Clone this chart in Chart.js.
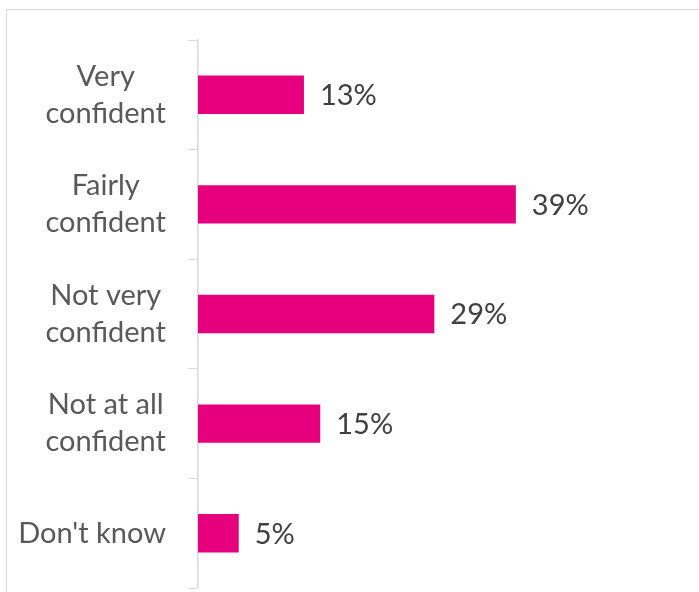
<!DOCTYPE html>
<html>
<head>
<meta charset="utf-8">
<script src="https://cdn.jsdelivr.net/npm/chart.js@4"></script>
<style>
  html, body { margin: 0; padding: 0; background: #fff; overflow: hidden; }
  #wrap { position: relative; width: 699px; height: 592px; }
  #frame { position: absolute; left: 6px; top: 9px; width: 720px; height: 620px;
           border: 1.5px solid #d9d9d9; box-sizing: border-box; }
  canvas { position: absolute; left: 0; top: 0; }
</style>
</head>
<body>
<div id="wrap">
  <div id="frame"></div>
  <canvas id="chart" width="699" height="592"></canvas>
</div>
<script>
// данные
const categories = [
  ['Very', 'confident'],
  ['Fairly', 'confident'],
  ['Not very', 'confident'],
  ['Not at all', 'confident'],
  ["Don't know"]
];
const values = [13, 39, 29, 15, 5];
const barColor = '#e6007e';
const fontFamily = 'Lato, "Open Sans", sans-serif';

// подписи категорий: строки по центру, блок выровнен вправо
const catLabels = {
  id: 'catLabels',
  afterDraw(chart) {
    const ctx = chart.ctx;
    const y = chart.scales.y;
    ctx.save();
    ctx.font = '29px ' + fontFamily;
    ctx.fillStyle = '#595959';
    ctx.textAlign = 'center';
    ctx.textBaseline = 'middle';
    const lineH = 37;
    categories.forEach((lines, i) => {
      const cy = y.getPixelForValue(i);
      const w = Math.max(...lines.map(l => ctx.measureText(l).width));
      const cx = y.right - 32 - w / 2;
      const top = cy - (lines.length - 1) * lineH / 2;
      lines.forEach((l, j) => ctx.fillText(l, cx, top + j * lineH));
    });
    ctx.restore();
  }
};

// подписи значений справа от столбцов
const valueLabels = {
  id: 'valueLabels',
  afterDatasetsDraw(chart) {
    const ctx = chart.ctx;
    const meta = chart.getDatasetMeta(0);
    ctx.save();
    ctx.font = '29px ' + fontFamily;
    ctx.fillStyle = '#404040';
    ctx.textAlign = 'left';
    ctx.textBaseline = 'middle';
    meta.data.forEach((bar, i) => {
      ctx.fillText(values[i] + '%', bar.x + 16, bar.y + 1);
    });
    ctx.restore();
  }
};

new Chart(document.getElementById('chart').getContext('2d'), {
  type: 'bar',
  data: {
    labels: categories,
    datasets: [{
      data: values,
      backgroundColor: barColor,
      categoryPercentage: 1,
      barPercentage: 0.35
    }]
  },
  options: {
    indexAxis: 'y',
    responsive: false,
    animation: false,
    layout: { padding: { top: 40, bottom: 4, right: 12, left: 0 } },
    plugins: { legend: { display: false }, tooltip: { enabled: false } },
    scales: {
      x: { display: false, min: 0, max: 60 },
      y: {
        ticks: { display: false },
        grid: { offset: true, drawOnChartArea: false, drawTicks: true, tickLength: 10, color: '#d9d9d9' },
        border: { color: '#d9d9d9', width: 1.5 },
        afterFit(scale) { scale.width = 198; }
      }
    }
  },
  plugins: [catLabels, valueLabels]
});
</script>
</body>
</html>
